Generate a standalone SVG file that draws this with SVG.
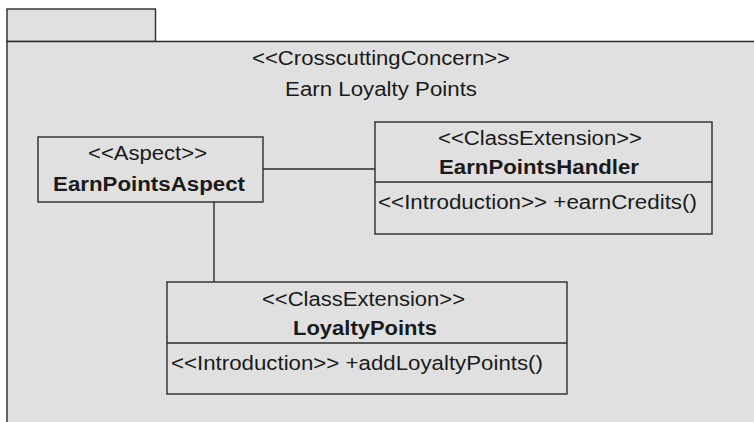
<svg xmlns="http://www.w3.org/2000/svg" width="754" height="422" viewBox="0 0 754 422">
<style>
.box{fill:#e0e0e0;stroke:#2b2b2b;stroke-width:1.4}
.ln{fill:none;stroke:#2b2b2b;stroke-width:1.4}
.t{font-family:"Liberation Sans",Arial,sans-serif;font-size:21px;fill:#1a1a1a}
.b{font-weight:bold}
.c{text-anchor:middle}
</style>
<rect width="754" height="422" fill="#ffffff"/>
<g id="package">
<rect class="box" x="7" y="9" width="148.5" height="32.5"/>
<path d="M7,41.5 H760 V430 H7 Z" class="box"/>
<text class="t c" transform="translate(381,65) scale(1.06,1)" textLength="243.4" lengthAdjust="spacingAndGlyphs">&lt;&lt;CrosscuttingConcern&gt;&gt;</text>
<text class="t c" transform="translate(381,96) scale(1.06,1)" textLength="181.1" lengthAdjust="spacingAndGlyphs">Earn Loyalty Points</text>
</g>
<g id="connectors">
<line class="ln" x1="263" y1="169" x2="375" y2="169"/>
<line class="ln" x1="214" y1="202" x2="214" y2="282"/>
</g>
<g id="EarnPointsAspect">
<rect class="box" x="38" y="137" width="225" height="65"/>
<text class="t c" transform="translate(147.5,160) scale(1.06,1)" textLength="112.3" lengthAdjust="spacingAndGlyphs">&lt;&lt;Aspect&gt;&gt;</text>
<text class="t c b" transform="translate(149,191) scale(1.06,1)" textLength="181.1" lengthAdjust="spacingAndGlyphs">EarnPointsAspect</text>
</g>
<g id="EarnPointsHandler">
<rect class="box" x="375" y="122" width="337" height="112"/>
<line class="ln" x1="375" y1="182" x2="712" y2="182"/>
<text class="t c" transform="translate(540,145) scale(1.06,1)" textLength="192.5" lengthAdjust="spacingAndGlyphs">&lt;&lt;ClassExtension&gt;&gt;</text>
<text class="t c b" transform="translate(539,174) scale(1.06,1)" textLength="188.7" lengthAdjust="spacingAndGlyphs">EarnPointsHandler</text>
<text class="t" transform="translate(378,209) scale(1.06,1)" textLength="300.9" lengthAdjust="spacingAndGlyphs">&lt;&lt;Introduction&gt;&gt; +earnCredits()</text>
</g>
<g id="LoyaltyPoints">
<rect class="box" x="167" y="282" width="400" height="112"/>
<line class="ln" x1="167" y1="343" x2="567" y2="343"/>
<text class="t c" transform="translate(363.5,306) scale(1.06,1)" textLength="191.5" lengthAdjust="spacingAndGlyphs">&lt;&lt;ClassExtension&gt;&gt;</text>
<text class="t c b" transform="translate(365,335) scale(1.06,1)" textLength="135.8" lengthAdjust="spacingAndGlyphs">LoyaltyPoints</text>
<text class="t" transform="translate(171,370) scale(1.06,1)" textLength="350.9" lengthAdjust="spacingAndGlyphs">&lt;&lt;Introduction&gt;&gt; +addLoyaltyPoints()</text>
</g>
</svg>
